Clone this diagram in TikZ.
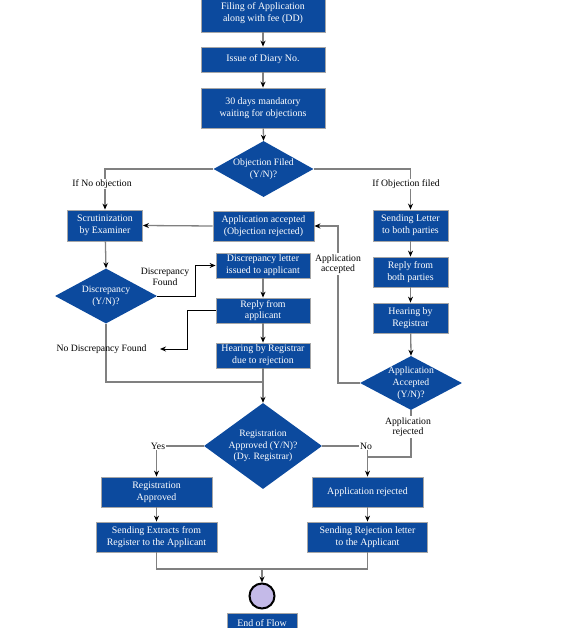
\documentclass[tikz,border=0pt]{standalone}
\usepackage{fontspec}
\setmainfont{Liberation Serif}
\usetikzlibrary{shapes.geometric,arrows.meta,calc}
\definecolor{boxblue}{RGB}{12,74,158}
\definecolor{linegray}{RGB}{128,128,128}
\definecolor{endfill}{RGB}{196,186,232}
\tikzset{
  box/.style={draw=linegray!70, line width=0.8pt, fill=boxblue, text=white, align=center,
    inner sep=0pt, font=\fontsize{9.9}{11.8}\selectfont},
  dia/.style={diamond, fill=boxblue, inner sep=0pt},
  diatext/.style={text=white, align=center, inner sep=0pt, font=\fontsize{9.7}{11.8}\selectfont},
  lbl/.style={text=black, align=center, inner sep=1pt, font=\fontsize{9.7}{10.5}\selectfont},
  conn/.style={draw=linegray, line width=1.3pt},
  blk/.style={draw=black, line width=1pt},
  arr/.style={-{Stealth[length=6pt,width=5pt,color=black]}},
}
\begin{document}
\begin{tikzpicture}[x=1pt,y=-1pt]
\useasboundingbox (0,0) rectangle (567,628);
% center column
\node[box, minimum width=124, minimum height=38] (filing) at (263,13) {Filing of Application\\along with fee (DD)};
\node[box, minimum width=124, minimum height=25] (issue) at (263,59.5) {Issue of Diary No.};
\node[box, minimum width=124, minimum height=40] (days) at (263,108) {30 days mandatory\\waiting for objections};
\node[dia, minimum width=100, minimum height=56] (obj) at (263.5,169) {};
\node[diatext] at (obj) {Objection Filed\\(Y/N)?};
% left
\node[box, minimum width=75, minimum height=31] (scrut) at (105,225.5) {Scrutinization\\by Examiner};
\node[box, minimum width=101, minimum height=30] (appacc) at (263.5,226) {Application accepted\\(Objection rejected)};
\node[dia, minimum width=102, minimum height=55] (disc) at (106,296) {};
\node[diatext] at (disc) {Discrepancy\\(Y/N)?};
\node[box, minimum width=94, minimum height=25] (discletter) at (263,265.5) {Discrepancy letter\\issued to applicant};
\node[box, minimum width=94, minimum height=25] (replyapp) at (263,310.5) {Reply from\\applicant};
\node[box, minimum width=94, minimum height=25] (hearrej) at (263,355.5) {Hearing by Registrar\\due to rejection};
% right
\node[box, minimum width=75, minimum height=31] (sendletter) at (410.5,225.5) {Sending Letter\\to both parties};
\node[box, minimum width=75, minimum height=30] (replyboth) at (410.5,272) {Reply from\\both parties};
\node[box, minimum width=75, minimum height=30] (hearing) at (410.5,318) {Hearing by\\Registrar};
\node[dia, minimum width=102, minimum height=54] (appdia) at (411,383) {};
\node[diatext] at (appdia) {Application\\Accepted\\(Y/N)?};
% registration
\node[dia, minimum width=118, minimum height=86] (regdia) at (263,446) {};
\node[diatext] at (regdia) {Registration\\Approved (Y/N)?\\(Dy. Registrar)};
\node[box, minimum width=111, minimum height=30] (regapp) at (156.5,492) {Registration\\Approved};
\node[box, minimum width=121, minimum height=30] (extracts) at (156.5,537) {Sending Extracts from\\Register to the Applicant};
\node[box, minimum width=111, minimum height=30] (apprej) at (367.5,492) {Application rejected};
\node[box, minimum width=120, minimum height=30] (rejletter) at (367.5,537) {Sending Rejection letter\\to the Applicant};
\node[circle, draw=black, line width=2pt, fill=endfill, minimum size=25, inner sep=0pt] (endc) at (262,596) {};
\node[box, minimum width=70, minimum height=20] (endbox) at (262,623) {End of Flow};

% coordinates
\coordinate (objL) at (105,169);
\coordinate (objR) at (410.5,169);
\coordinate (accBend) at (338,383);
\coordinate (accTop) at (338,226);
\coordinate (discA) at (195,296);
\coordinate (discB) at (195,265.5);
\coordinate (ndA) at (187,310.5);
\coordinate (ndB) at (187,349);
\coordinate (ndEnd) at (160,349);
\coordinate (joinL) at (106,382);
\coordinate (joinC) at (263,382);
\coordinate (yesC) at (156.5,446);
\coordinate (noC) at (367.5,446);
\coordinate (rejA) at (411,457);
\coordinate (rejB) at (367.5,457);
\coordinate (botL) at (156.5,569);
\coordinate (botR) at (367.5,569);
\coordinate (botC) at (262,569);

% connectors
\draw[conn, arr] (filing) -- (issue);
\draw[conn, arr] (issue) -- (days);
\draw[conn, arr] (days) -- (obj.north);
\draw[conn, arr] (obj.west) -- (objL) -- (scrut.north);
\draw[conn, arr] (obj.east) -- (objR) -- (sendletter.north);
\draw[conn, arr] (appacc.west) -- (scrut.east);
\draw[conn, arr] (sendletter) -- (replyboth);
\draw[conn, arr] (replyboth) -- (hearing);
\draw[conn, arr] (hearing) -- (appdia.north);
\draw[conn, arr] (appdia.west) -- (accBend) -- (accTop) -- (appacc.east);
\draw[conn, arr] (scrut) -- (disc.north);
\draw[blk, arr] (disc.east) -- (discA) -- (discB) -- (discletter.west);
\draw[conn, arr] (discletter) -- (replyapp);
\draw[conn, arr] (replyapp) -- (hearrej);
\draw[blk, arr] (replyapp.west) -- (ndA) -- (ndB) -- (ndEnd);
\draw[conn] (disc.south) -- (joinL) -- (joinC);
\draw[conn, arr] (hearrej) -- (regdia.north);
\draw[conn, arr] (regdia.west) -- (yesC) -- (regapp.north);
\draw[conn, arr] (regdia.east) -- (noC) -- (apprej.north);
\draw[conn] (appdia.south) -- (rejA) -- (rejB);
\draw[conn, arr] (regapp) -- (extracts);
\draw[conn, arr] (apprej) -- (rejletter);
\draw[conn] (extracts.south) -- (botL) -- (botR) -- (rejletter.south);
\draw[conn, arr] (botC) -- (endc.north);

% labels
\node[lbl, fill=white] (lnoobj) at (102,184) {If No objection};
\node[lbl, fill=white] (lobj) at (406,184) {If Objection filed};
\node[lbl, fill=white] (lacc) at (338,264) {Application\\accepted};
\node[lbl] (ldisc) at (165,277) {Discrepancy\\Found};
\node[lbl] (lnodisc) at (101.5,349) {No Discrepancy Found};
\node[lbl, fill=white] (lrej) at (408,427) {Application\\rejected};
\node[lbl, fill=white] (lyes) at (158,446) {Yes};
\node[lbl, fill=white] (lno) at (366,446) {No};
\end{tikzpicture}
\end{document}
